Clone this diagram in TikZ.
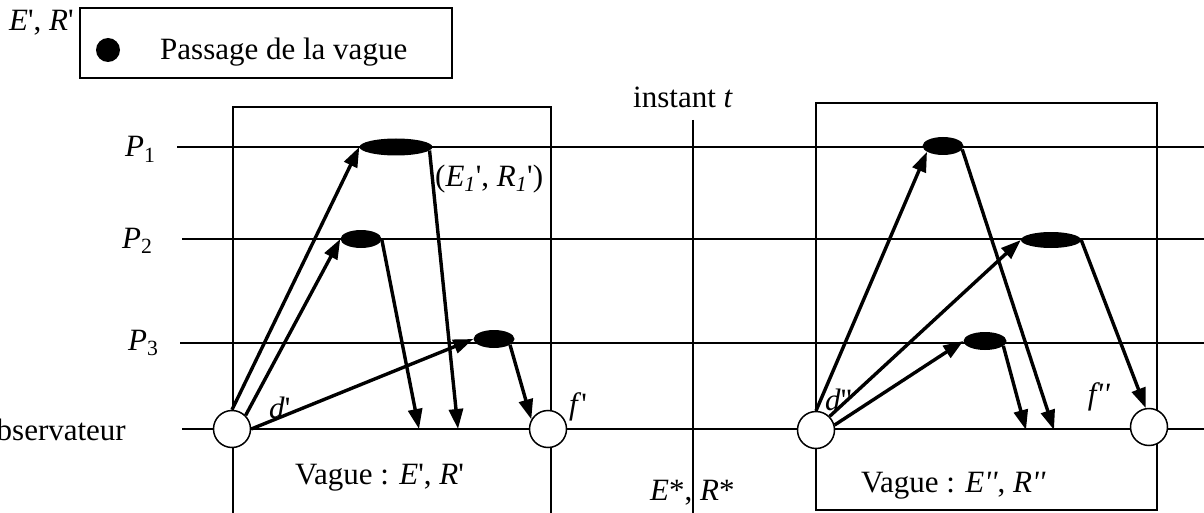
\documentclass[tikz,border=0pt]{standalone}
\usepackage{fontspec}
\setmainfont{Liberation Serif}[Ligatures=TeXOff]
\usetikzlibrary{shapes.geometric, arrows.meta, positioning}

\begin{document}
\begin{tikzpicture}[x=1pt, y=-1pt, font=\fontsize{31}{36}\selectfont,
    every node/.style={inner sep=0pt},
    trait/.style={line width=1.5pt},
    fleche/.style={line width=3.4pt, -{Triangle[length=20pt,width=14pt]}},
    passage/.style={ellipse, fill=black},
    obs/.style={circle, draw, line width=1.5pt, fill=white, minimum size=37pt}]

    \useasboundingbox (0,0) rectangle (1204,513);
    \clip (0,0) rectangle (1204,513);

    % --- legende ---
    \node[anchor=base west] (lblER) at (9,31) {\textit{E}', \textit{R}'};
    \draw[trait] (80,8) rectangle (452,78);
    \node[circle, fill=black, minimum size=24pt] (dot) at (108,50) {};
    \node[anchor=base west] (lgtxt) at (160,60) {Passage de la vague};

    % --- lignes des processus ---
    \draw[trait] (177,147) -- (1204,147);
    \draw[trait] (182,239) -- (1204,239);
    \draw[trait] (180,343) -- (1204,343);
    \draw[trait] (182,429) -- (1204,429);
    \node[anchor=base west] (p1) at (125,157) {\textit{P}\textsubscript{1}};
    \node[anchor=base west] (p2) at (122,248) {\textit{P}\textsubscript{2}};
    \node[anchor=base west] (p3) at (128,350) {\textit{P}\textsubscript{3}};
    \node[anchor=base east] (obsv) at (126,440) {Observateur};

    % --- vagues et instant t ---
    \draw[trait] (233,530) -- (233,107) -- (551,107) -- (551,530);
    \draw[trait] (816,103) rectangle (1157,510);
    \draw[trait] (693,120) -- (693,530);
    \node[anchor=base west] (inst) at (633,108) {instant \textit{t}};

    % --- passages ---
    \node[passage, minimum width=73pt, minimum height=17pt] (pa1) at (396,147) {};
    \node[passage, minimum width=41pt, minimum height=18pt] (pa2) at (361,239) {};
    \node[passage, minimum width=41pt, minimum height=18pt] (pa3) at (494,339) {};
    \node[passage, minimum width=41pt, minimum height=18pt] (pb1) at (943,146) {};
    \node[passage, minimum width=60pt, minimum height=16pt] (pb2) at (1051,240) {};
    \node[passage, minimum width=43pt, minimum height=18pt] (pb3) at (985,341) {};

    \node[obs] (dA) at (232,429) {};
    \node[obs] (fA) at (548,429) {};
    \node[obs] (dB) at (816,430) {};
    \node[obs] (fB) at (1149,427) {};
    \coordinate (rA2) at (419,429);
    \coordinate (rA1) at (458,429);
    \coordinate (rB3) at (1026,430);
    \coordinate (rB1) at (1054,430);

    % --- premiere vague ---
    \draw[fleche] (dA.north) -- (pa1.west);
    \draw[fleche] (dA.45) -- (pa2.west);
    \draw[fleche] (dA.east) -- (pa3.west);
    \draw[fleche] (pa2.east) -- (rA2);
    \draw[fleche] (pa1.-6) -- (rA1);
    \draw[fleche] (pa3.-20) -- (fA.150);

    % --- seconde vague ---
    \draw[fleche] (dB.north) -- (pb1.200);
    \draw[fleche] (dB.45) -- (pb2.west);
    \draw[fleche] (dB.15) -- (pb3.west);
    \draw[fleche] (pb1.-10) -- (rB1);
    \draw[fleche] (pb3.-15) -- (rB3);
    \draw[fleche] (pb2.east) -- (fB.100);

    % --- etiquettes ---
    \node[anchor=base west] (er1) at (435,186) {(\textit{E\textsubscript{1}}', \textit{R\textsubscript{1}}')};
    \node[anchor=base west] (dA') at (269,418) {\textit{d}'};
    \node (fA') at (578,407) {\textit{f}'};
    \node[anchor=base west] (dB'') at (825,410) {\textit{d}''};
    \node (fB'') at (1099,397) {\textit{f''}};
    \node[anchor=base west] (vgA) at (295,484) {Vague : \textit{E}', \textit{R}'};
    \node[anchor=base west] (ers) at (650,500) {\textit{E}*, \textit{R}*};
    \node[anchor=base west] (vgB) at (861,492) {Vague : \textit{E''}, \textit{R''}};
\end{tikzpicture}
\end{document}
